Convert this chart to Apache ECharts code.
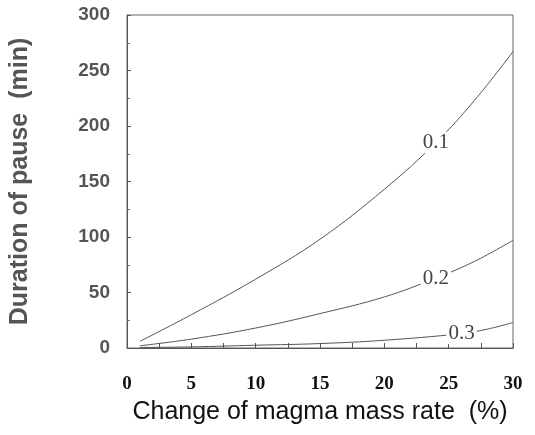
<!DOCTYPE html>
<html>
<head>
<meta charset="utf-8">
<script src="https://cdn.jsdelivr.net/npm/echarts@6/dist/echarts.min.js"></script>
<style>
  html, body { margin: 0; padding: 0; background: #fff; }
  #chart { width: 535px; height: 435px; }
</style>
</head>
<body>
<div id="chart"></div>
<script>
// curve values: [change %, pause min]
const curve01 = [[1, 6], [5, 30], [10, 62], [15, 98], [20, 143], [24, 185], [27, 223], [30, 267]];
const curve02 = [[1, 2], [5, 8], [10, 18], [15, 31], [20, 46], [24, 63], [27, 78], [30, 97]];
const curve03 = [[1, 0.5], [5, 1], [10, 2.5], [15, 4], [20, 7], [26, 13], [28, 17], [30, 23]];
const curveNames = ["0.1", "0.2", "0.3"];
const labelAt = [5, 5, 5]; // index of the point carrying the label

const chart = echarts.init(document.getElementById("chart"));

const makeSeries = (data, i) => ({
  name: curveNames[i],
  type: "line",
  smooth: 0.4,
  symbol: "circle",
  symbolSize: 0,
  showSymbol: true,
  lineStyle: { color: "#555", width: 1 },
  itemStyle: { color: "#555" },
  data: data.map((p, j) => j === labelAt[i]
    ? {
        value: p,
        label: {
          show: true,
          formatter: curveNames[i],
          position: "inside",
          fontFamily: "Liberation Serif",
          fontSize: 21,
          color: "#444",
          backgroundColor: "#fff",
          padding: [0, 2]
        }
      }
    : p)
});

const option = {
  animation: false,
  grid: { left: 126, right: 22, top: 15, bottom: 87, show: true, borderColor: "#666", borderWidth: 1 },
  xAxis: {
    type: "value",
    min: 0, max: 30, interval: 5,
    name: "Change of magma mass rate  (%)",
    nameLocation: "middle",
    nameGap: 52,
    nameTextStyle: { fontFamily: "Liberation Sans", fontSize: 25, color: "#111" },
    axisLine: { lineStyle: { color: "#555" } },
    axisTick: { inside: true, length: 5, lineStyle: { color: "#555" } },
    minorTick: { show: true, splitNumber: 2, length: 5, lineStyle: { color: "#555" } },
    splitLine: { show: false },
    axisLabel: {
      margin: 27, fontFamily: "Liberation Serif", fontWeight: "bold", fontSize: 19,
      color: (v) => (v === 0 ? "#5a4a40" : "#111")
    }
  },
  yAxis: {
    type: "value",
    min: 0, max: 300, interval: 50,
    name: "Duration of pause  (min)",
    nameLocation: "middle",
    nameGap: 94,
    nameTextStyle: { fontFamily: "Liberation Sans", fontWeight: "bold", fontSize: 25, color: "#555" },
    axisLine: { show: true, lineStyle: { color: "#555" } },
    axisTick: { inside: true, length: 4, lineStyle: { color: "#555" } },
    minorTick: { show: true, splitNumber: 2, length: 3, lineStyle: { color: "#777" } },
    splitLine: { show: false },
    axisLabel: { margin: 17, fontFamily: "Liberation Sans", fontWeight: "bold", fontSize: 19, color: "#555" }
  },
  series: [curve01, curve02, curve03].map(makeSeries)
};

chart.setOption(option);
</script>
</body>
</html>
